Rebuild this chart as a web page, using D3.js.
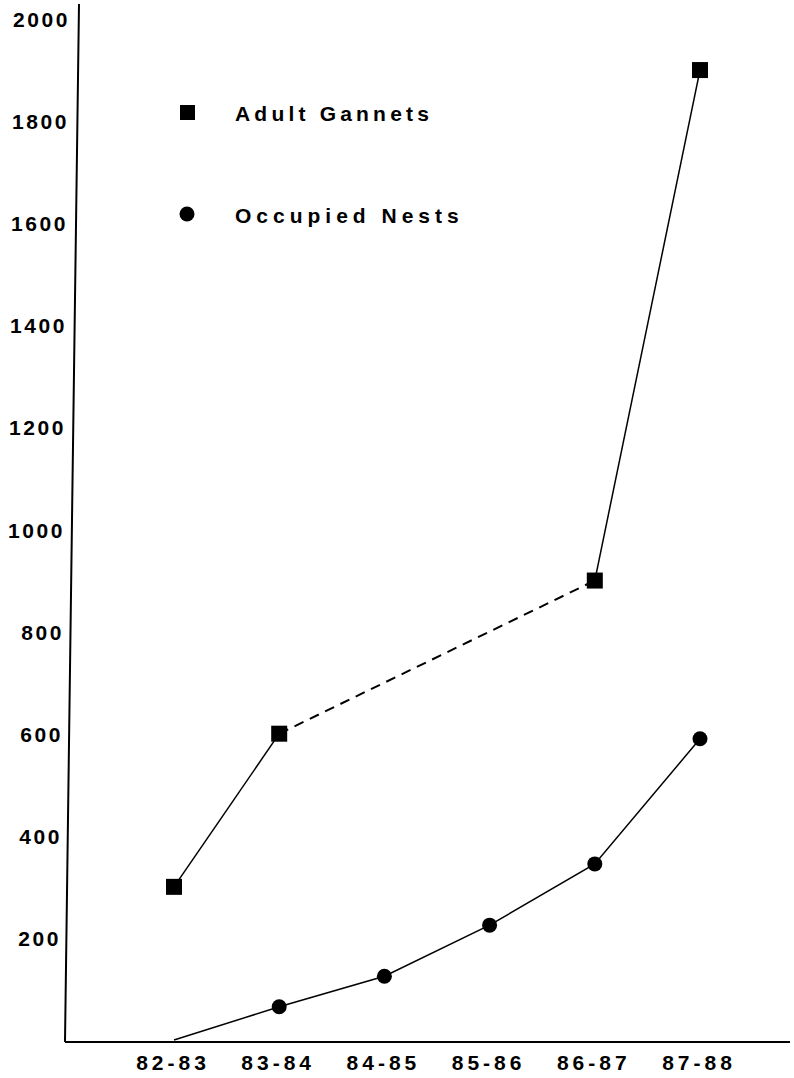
<!DOCTYPE html>
<html><head><meta charset="utf-8">
<script src="https://cdn.jsdelivr.net/npm/d3@7"></script>
<style>body{margin:0;background:#fff}svg{display:block}text{font-family:"Liberation Sans",Arial,sans-serif;font-weight:bold;fill:#000}</style>
</head><body>
<script>
const seasons = ["82-83","83-84","84-85","85-86","86-87","87-88"];
const adultGannets = [300, 600, null, null, 900, 1900];
const occupiedNests = [0, 65, 125, 225, 345, 590];
const yTicks = [200,400,600,800,1000,1200,1400,1600,1800,2000];
const legendLabels = ["Adult Gannets","Occupied Nests"];

const W=794,H=1078;
const svg=d3.select("body").append("svg").attr("width",W).attr("height",H);
const x=d3.scalePoint().domain(seasons).range([174,700]);
const y=d3.scaleLinear().domain([0,2000]).range([1040,19]);

// axes (scanned y axis slightly slanted)
svg.append("path").attr("d","M79,4 L72,520 L65,1042").attr("fill","none").attr("stroke","#000").attr("stroke-width",2);
svg.append("line").attr("x1",65).attr("x2",790).attr("y1",1042).attr("y2",1042).attr("stroke","#000").attr("stroke-width",2);

svg.selectAll(".yt").data(yTicks).enter().append("text")
  .attr("x",d=>70-(2000-d)/2000*10).attr("y",d=>y(d)+8)
  .attr("text-anchor","end").attr("font-size",21).attr("letter-spacing",2.6).text(d=>d);
const xs=4;
svg.selectAll(".xt").data(seasons).enter().append("text")
  .attr("x",d=>x(d)-3+xs/2).attr("y",1070).attr("text-anchor","middle")
  .attr("font-size",21).attr("letter-spacing",xs).text(d=>d);

// Gannets: solid segments and dashed gap
const gPts=seasons.map((s,i)=>({s,v:adultGannets[i]})).filter(d=>d.v!=null);
const line=d3.line().x(d=>x(d.s)).y(d=>y(d.v));
const seg=(a,b,dash)=>svg.append("path").attr("d",line([a,b])).attr("fill","none").attr("stroke","#000")
  .attr("stroke-width",dash?2:1.5).attr("stroke-dasharray",dash?"10,7":null);
for(let i=0;i<gPts.length-1;i++){
  const a=gPts[i],b=gPts[i+1];
  const gap=seasons.indexOf(b.s)-seasons.indexOf(a.s)>1;
  seg(a,b,gap);
}
svg.selectAll(".sq").data(gPts).enter().append("rect")
  .attr("x",d=>x(d.s)-8).attr("y",d=>y(d.v)-8).attr("width",16).attr("height",16).attr("fill","#000");

// Nests
const nPts=seasons.map((s,i)=>({s,v:occupiedNests[i]}));
svg.append("path").attr("d",line(nPts)).attr("fill","none").attr("stroke","#000").attr("stroke-width",1.5);
svg.selectAll(".ci").data(nPts.slice(1)).enter().append("circle")
  .attr("cx",d=>x(d.s)).attr("cy",d=>y(d.v)).attr("r",7.5).attr("fill","#000");

// legend
svg.append("rect").attr("x",180).attr("y",105).attr("width",15).attr("height",15).attr("fill","#000");
svg.append("circle").attr("cx",187).attr("cy",214).attr("r",7.5).attr("fill","#000");
svg.append("text").attr("x",235).attr("y",121).attr("font-size",21).attr("letter-spacing",4.2).text(legendLabels[0]);
svg.append("text").attr("x",235).attr("y",223).attr("font-size",21).attr("letter-spacing",5).text(legendLabels[1]);
</script>
</body></html>
